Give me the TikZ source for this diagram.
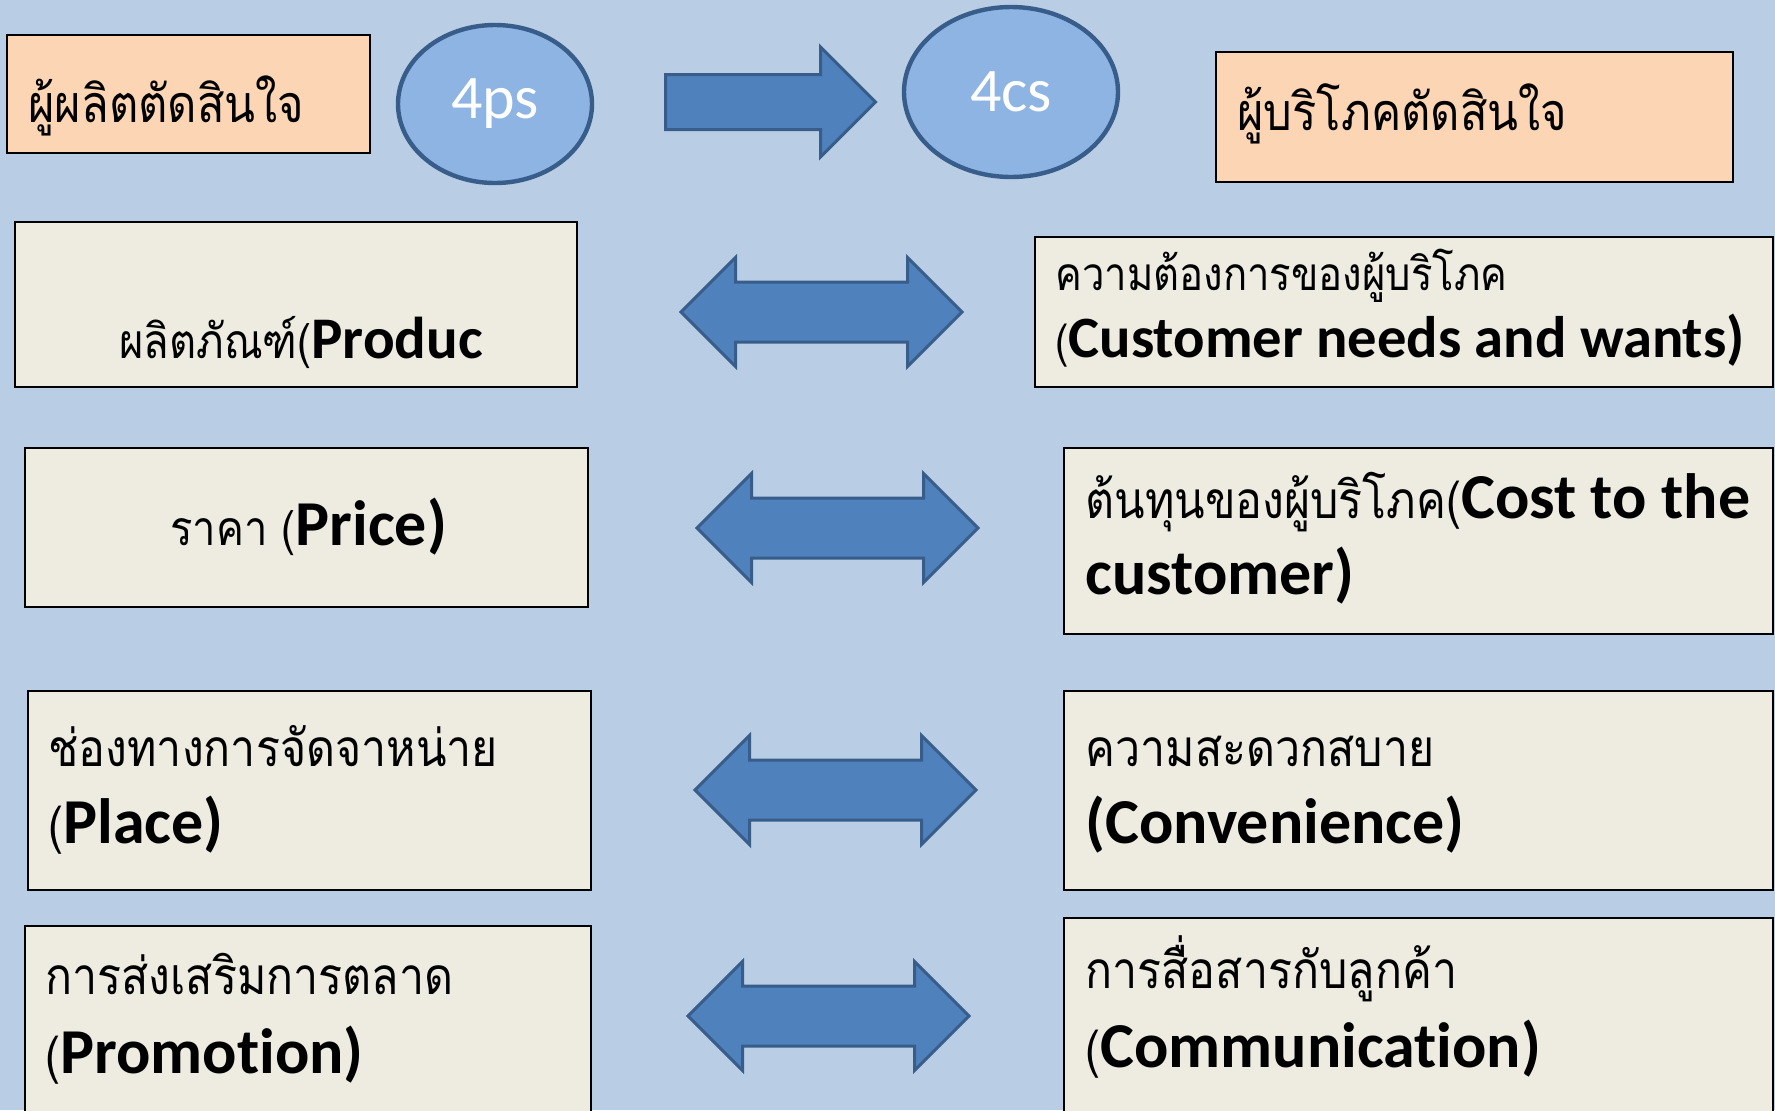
\documentclass[tikz,border=0pt]{standalone}
\usepackage{fontspec}
\setmainfont{Carlito}[Ligatures=NoCommon]
\newfontfamily\thaifont[Script=Thai,FakeStretch=0.87]{Loma}
\usetikzlibrary{shapes.geometric,shapes.arrows}
\definecolor{bgblue}{HTML}{B9CDE5}
\definecolor{cardfill}{HTML}{EEECE1}
\definecolor{peach}{HTML}{FCD5B5}
\definecolor{ovalfill}{HTML}{8EB4E3}
\definecolor{arrowfill}{HTML}{4F81BD}
\definecolor{darkline}{HTML}{385D8A}
\newcommand{\thaibig}{\thaifont\fontsize{26}{32}\selectfont}
\newcommand{\thaimid}{\thaifont\fontsize{25.7}{31}\selectfont}
\newcommand{\thaione}{\thaifont\fontsize{24}{29}\selectfont}
\newcommand{\thaismall}{\thaifont\fontsize{23}{28}\selectfont}
\newcommand{\engl}[2][32]{{\normalfont\bfseries\fontsize{#1}{38}\selectfont #2}}
\tikzset{
  card/.style={draw=black, line width=1.2pt, fill=cardfill, inner sep=0pt},
  header/.style={card, fill=peach},
  oval/.style={ellipse, draw=darkline, line width=2.2pt, fill=ovalfill,
    text=white, inner sep=0pt, font=\fontsize{31}{36}\selectfont},
  both/.style={double arrow, draw=darkline, line width=1.5pt, fill=arrowfill,
    minimum height=140.5pt, inner xsep=0pt, inner ysep=14.25pt,
    double arrow head extend=12.25pt},
  lbl/.style={anchor=base west, inner sep=0pt},
}
\begin{document}
\begin{tikzpicture}[x=0.5pt,y=-0.5pt]
  \fill[bgblue] (0,0) rectangle (1775,1110);
  \useasboundingbox (0,0) rectangle (1775,1110);
%%
  % Node: maker
  \node[header, minimum width=181.5pt, minimum height=59pt] (maker) at (188.5,94) {};
  \node[lbl, font=\thaibig] (makertxt) at (28,122) {ผู้ผลิตตัดสินใจ};
  % Node: fourps
  \node[oval, minimum width=97pt, minimum height=79pt] (fourps) at (495,104) {4ps};
  % Node: go
  \node[single arrow, draw=darkline, line width=1.5pt, fill=arrowfill,
    minimum height=105pt, inner xsep=0pt, inner ysep=13pt,
    single arrow head extend=13.75pt, anchor=tail] (go) at (664,102) {};
  % Node: fourcs
  \node[oval, minimum width=107pt, minimum height=85pt] (fourcs) at (1011,92) {4cs};
  % Node: buyer
  \node[header, minimum width=258.5pt, minimum height=65pt] (buyer) at (1474.5,117) {};
  \node[lbl, font=\thaibig] (buyertxt) at (1237,130) {ผู้บริโภคตัดสินใจ};
%%
  % Row: product -- needs
  \node[card, minimum width=281pt, minimum height=82.5pt] (product) at (296,304.5) {};
  \node[lbl, font=\thaione] (producttxt) at (119,358) {ผลิตภัณฑ์(\engl[29.5]{Produc}};
  \node[both] (pairA) at (821.5,312) {};
  \node[card, minimum width=369pt, minimum height=75pt] (needs) at (1404,312) {};
  \node[lbl, font=\thaismall] (needsth) at (1055,290) {ความต้องการของผู้บริโภค};
  \node[lbl, font=\thaismall] (needsen) at (1055,357) {(\engl[29.3]{Customer needs and wants)}};
  % Row: price -- cost
  \node[card, minimum width=281.5pt, minimum height=79.5pt] (price) at (306.5,527.5) {};
  \node[lbl, font=\thaione] (pricetxt) at (170,545) {ราคา (\engl{Price)}};
  \node[both] (pairB) at (837.5,528) {};
  \node[card, minimum width=354.5pt, minimum height=93pt] (cost) at (1418.5,541) {};
  \node[lbl, font=\thaimid] (costth) at (1085,518) {ต้นทุนของผู้บริโภค(\engl{Cost to the}};
  \node[lbl] (costen) at (1085,594) {\engl{customer)}};
  % Row: place -- convenience
  \node[card, minimum width=281.5pt, minimum height=99.5pt] (place) at (309.5,790.5) {};
  \node[lbl, font=\thaimid] (placeth) at (48,766) {ช่องทางการจัดจาหน่าย};
  \node[lbl, font=\thaimid] (placeen) at (48,843) {(\engl{Place)}};
  \node[both] (pairC) at (835.5,790) {};
  \node[card, minimum width=354.5pt, minimum height=99.5pt] (conv) at (1418.5,790.5) {};
  \node[lbl, font=\thaimid] (convth) at (1085,766) {ความสะดวกสบาย};
  \node[lbl] (conven) at (1085,843) {\engl{(Convenience)}};
  % Row: promotion -- communication
  \node[card, minimum width=283pt, minimum height=102pt] (promo) at (308,1028) {};
  \node[lbl, font=\thaimid] (promoth) at (45,994) {การส่งเสริมการตลาด};
  \node[lbl, font=\thaimid] (promoen) at (45,1073) {(\engl{Promotion)}};
  \node[both] (pairD) at (828.5,1016) {};
  \node[card, minimum width=354.5pt, minimum height=106pt] (comm) at (1418.5,1024) {};
  \node[lbl, font=\thaimid] (commth) at (1085,988) {การสื่อสารกับลูกค้า};
  \node[lbl, font=\thaimid] (commen) at (1085,1067) {(\engl{Communication)}};
%
\end{tikzpicture}
\end{document}
